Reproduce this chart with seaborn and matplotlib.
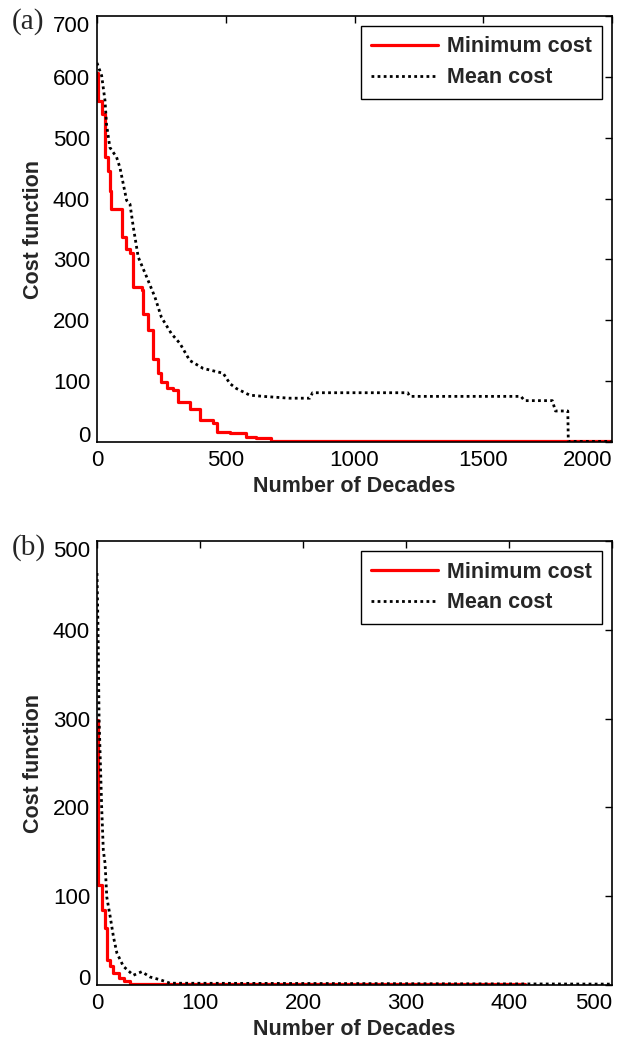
import numpy as np
import seaborn as sns
import matplotlib.pyplot as plt

# (a) values
a_min_x = [0, 5, 18, 31, 43, 50, 53, 96, 113, 128, 141, 173, 180, 199, 218, 237, 250, 270, 296, 315, 360, 399, 451, 464, 516, 580, 619, 677, 2000]
a_min_y = [607, 561, 539, 468, 446, 413, 383, 337, 318, 310, 255, 250, 211, 184, 137, 113, 99, 88, 85, 66, 55, 36, 31, 17, 14, 9, 6, 2, 1]
a_mean_x = [0, 18, 31, 37, 50, 76, 89, 115, 128, 141, 160, 193, 225, 250, 289, 322, 360, 412, 490, 516, 541, 593, 645, 748, 826, 837, 1206, 1215, 1646, 1660, 1768, 1780, 1828, 1830, 2000]
a_mean_y = [623, 602, 561, 522, 484, 468, 451, 397, 391, 353, 304, 271, 238, 205, 178, 162, 134, 121, 113, 96, 88, 77, 75, 72, 72, 81, 81, 75, 75, 68, 68, 51, 51, 1, 1]

# (b)
b_min_x = [0, 1, 4.5, 7.8, 9.5, 12.8, 16, 21, 26, 32, 415]
b_min_y = [298, 113, 84, 64, 28, 21, 13, 8, 4, 1.5, 1.5]
b_mean_x = [0, 1, 2, 4.5, 6.1, 7.8, 9.5, 12.8, 16, 19.3, 25.6, 35.3, 43.4, 51.5, 61, 71, 500]
b_mean_y = [464, 400, 300, 201, 152, 137, 99, 77, 54, 36, 21, 11, 15, 9, 6, 2, 1]

sns.set_style("white")
plt.rcParams['font.family'] = ['Liberation Sans Narrow', 'Liberation Sans', 'DejaVu Sans']
bold_font = ["Liberation Sans", "DejaVu Sans"]

fig = plt.figure(figsize=(6.32, 10.42), dpi=100)
ax1 = fig.add_axes([0.1535, 0.5758, 0.815, 0.4088])
ax2 = fig.add_axes([0.1535, 0.0547, 0.815, 0.426])

panels = [
    (ax1, a_min_x, a_min_y, a_mean_x, a_mean_y, 2000, 700, 500, "(a)"),
    (ax2, b_min_x, b_min_y, b_mean_x, b_mean_y, 500, 500, 100, "(b)"),
]

for ax, mx, my, ex, ey, xmax, ymax, xstep, tag in panels:
    sns.lineplot(x=mx, y=my, ax=ax, color="#ff0000", lw=2.3, drawstyle="steps-post",
                 estimator=None, sort=False, label="Minimum cost")
    sns.lineplot(x=ex, y=ey, ax=ax, color="black", lw=2.0, linestyle=(0, (1, 1.2)),
                 estimator=None, sort=False, label="Mean cost")
    ax.set_xlim(0, xmax)
    ax.set_ylim(0, ymax)
    ax.set_xticks(np.arange(0, xmax + 1, xstep))
    ax.set_yticks(np.arange(0, ymax + 1, 100))
    ax.tick_params(direction="in", top=True, right=True, length=5, width=1,
                   labelsize=16, colors="black")
    ax.tick_params(axis="x", pad=6)
    ax.tick_params(axis="y", pad=5)
    # MATLAB keeps the end labels inside the frame
    ax.get_xticklabels()[-1].set_horizontalalignment("right")
    ax.get_yticklabels()[0].set_verticalalignment("baseline")
    ax.get_yticklabels()[-1].set_verticalalignment("top")
    for s in ax.spines.values():
        s.set_color("black")
        s.set_linewidth(1.2)
    ax.set_xlabel("Number of Decades", fontsize=15.5, fontweight="bold",
                  family=bold_font, labelpad=3)
    ax.set_ylabel("Cost function", fontsize=15.5, fontweight="bold",
                  family=bold_font, labelpad=6)
    leg = ax.legend(loc="upper right", fancybox=False, framealpha=1, edgecolor="black",
                    handlelength=3.1, handletextpad=0.4, borderaxespad=0.45,
                    borderpad=0.5, labelspacing=0.45,
                    prop={"family": bold_font, "weight": "bold", "size": 15.5})
    leg.get_frame().set_linewidth(1.0)
    ax.text(-0.165, 0.986, tag, transform=ax.transAxes, fontsize=21,
            family=["Liberation Serif", "DejaVu Serif"], va="center", ha="left")

fig.savefig("out.png", dpi=100)
